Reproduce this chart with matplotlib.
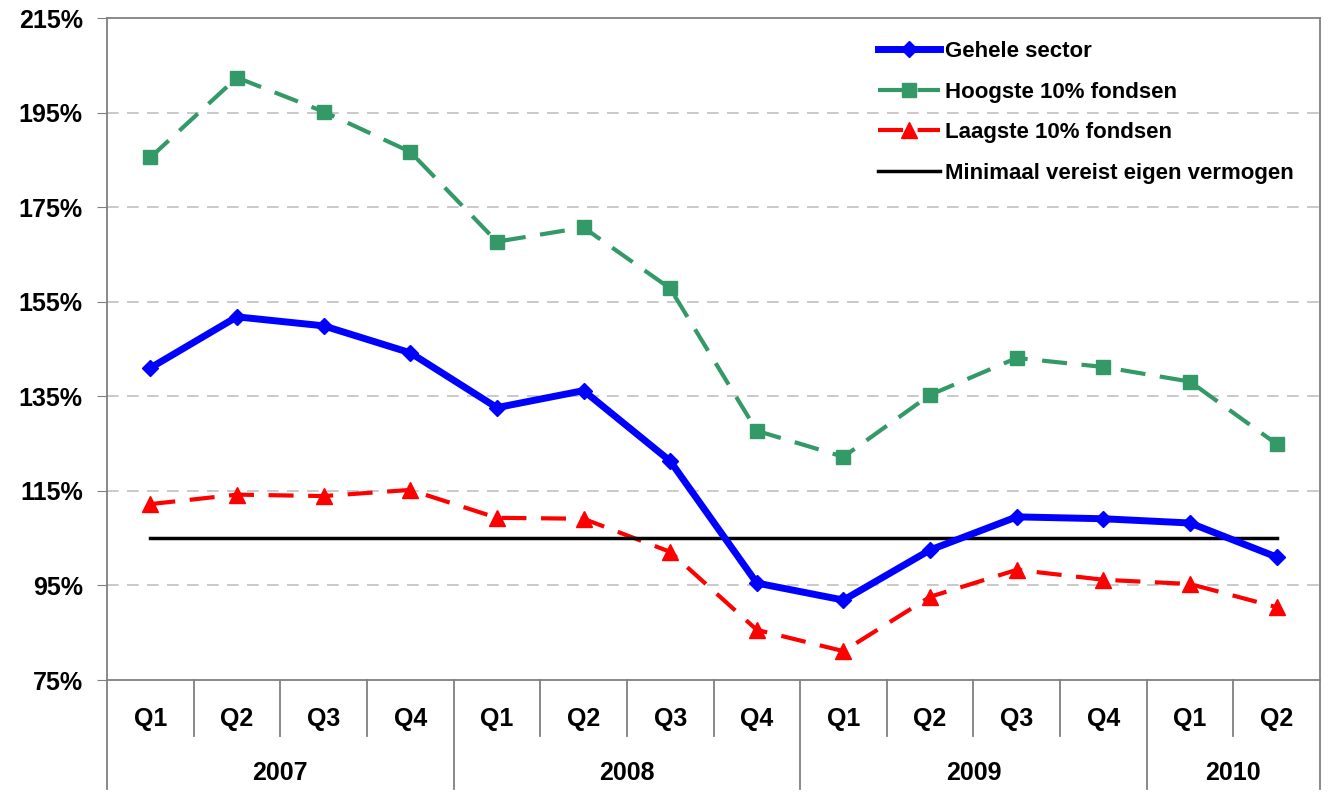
import matplotlib
matplotlib.use("Agg")
import matplotlib.pyplot as plt
import matplotlib.transforms as mtransforms

plt.rcParams['font.family'] = ['Liberation Sans', 'DejaVu Sans']
plt.rcParams['font.weight'] = 'bold'

# data
quarters = ['Q1', 'Q2', 'Q3', 'Q4', 'Q1', 'Q2', 'Q3', 'Q4',
            'Q1', 'Q2', 'Q3', 'Q4', 'Q1', 'Q2']
years = ['2007', '2008', '2009', '2010']
year_counts = [4, 4, 4, 2]

gehele_sector = [141.0, 151.8, 149.9, 144.2, 132.6, 136.2, 121.3, 95.5,
                 91.9, 102.5, 109.5, 109.1, 108.2, 101.0]
hoogste_10 = [185.5, 202.4, 195.2, 186.7, 167.7, 170.7, 157.8, 127.7,
              122.2, 135.3, 143.1, 141.2, 138.1, 124.9]
laagste_10 = [112.2, 114.2, 113.9, 115.2, 109.3, 109.1, 102.1, 85.6,
              81.1, 92.6, 98.3, 96.2, 95.3, 90.4]
minimaal_vereist = 105.0

yticks = [75, 95, 115, 135, 155, 175, 195, 215]

fig = plt.figure(figsize=(13.29, 8.09), dpi=100)
ax = fig.add_axes([107/1329, 1 - 680/809, 1213/1329, 662/809])

x = list(range(len(quarters)))

ax.plot(x, hoogste_10, color='#339966', lw=3, dashes=(6, 3.5),
        marker='s', ms=10, label='Hoogste 10% fondsen', zorder=3)
ax.plot(x, laagste_10, color='#ff0000', lw=3, dashes=(6, 3.5),
        marker='^', ms=11, label='Laagste 10% fondsen', zorder=3)
ax.plot([x[0], x[-1]], [minimaal_vereist, minimaal_vereist], color='black',
        lw=2.5, label='Minimaal vereist eigen vermogen', zorder=4)
ax.plot(x, gehele_sector, color='#0000ff', lw=5, marker='D', ms=8,
        label='Gehele sector', zorder=5)

ax.set_xlim(-0.5, len(quarters) - 0.5)
ax.set_ylim(75, 215)
ax.set_yticks(yticks)
ax.set_yticklabels([f'{v}%' for v in yticks], fontsize=18, fontweight='bold')
ax.tick_params(axis='y', length=7, color='#808080', pad=10.5)
ax.set_xticks([])

for v in yticks[1:-1]:
    ax.axhline(v, color='#c0c0c0', lw=1.2, dashes=(7, 5), zorder=1)

for side in ['left', 'bottom', 'top', 'right']:
    ax.spines[side].set_color('#808080')
    ax.spines[side].set_linewidth(1.3)

# two-level category axis
trans = mtransforms.blended_transform_factory(ax.transData, ax.transAxes)
q_depth = -56 / 662
y_depth = -109 / 662
for i, q in enumerate(quarters):
    ax.text(i, -39 / 662, q, transform=trans, ha='center', va='center',
            fontsize=18, fontweight='bold')

bounds = [-0.5]
for c in year_counts:
    bounds.append(bounds[-1] + c)
for i in range(len(quarters) + 1):
    b = i - 0.5
    depth = y_depth if b in bounds else q_depth
    ax.plot([b, b], [0, depth], transform=trans, color='#808080', lw=1.3,
            clip_on=False)
for yr, lo, hi in zip(years, bounds[:-1], bounds[1:]):
    ax.text((lo + hi) / 2, -93 / 662, yr, transform=trans, ha='center',
            va='center', fontsize=18, fontweight='bold')

handles, labels = ax.get_legend_handles_labels()
order = [3, 0, 1, 2]
leg = ax.legend([handles[i] for i in order], [labels[i] for i in order],
                loc='upper left', bbox_to_anchor=((878 - 107) / 1213, 1 - 23 / 662),
                frameon=False, fontsize=16, borderpad=0,
                handlelength=2.8, labelspacing=0.88, handletextpad=0.2,
                borderaxespad=0)
for t in leg.get_texts():
    t.set_fontweight('bold')

fig.savefig('out.png', dpi=100)
